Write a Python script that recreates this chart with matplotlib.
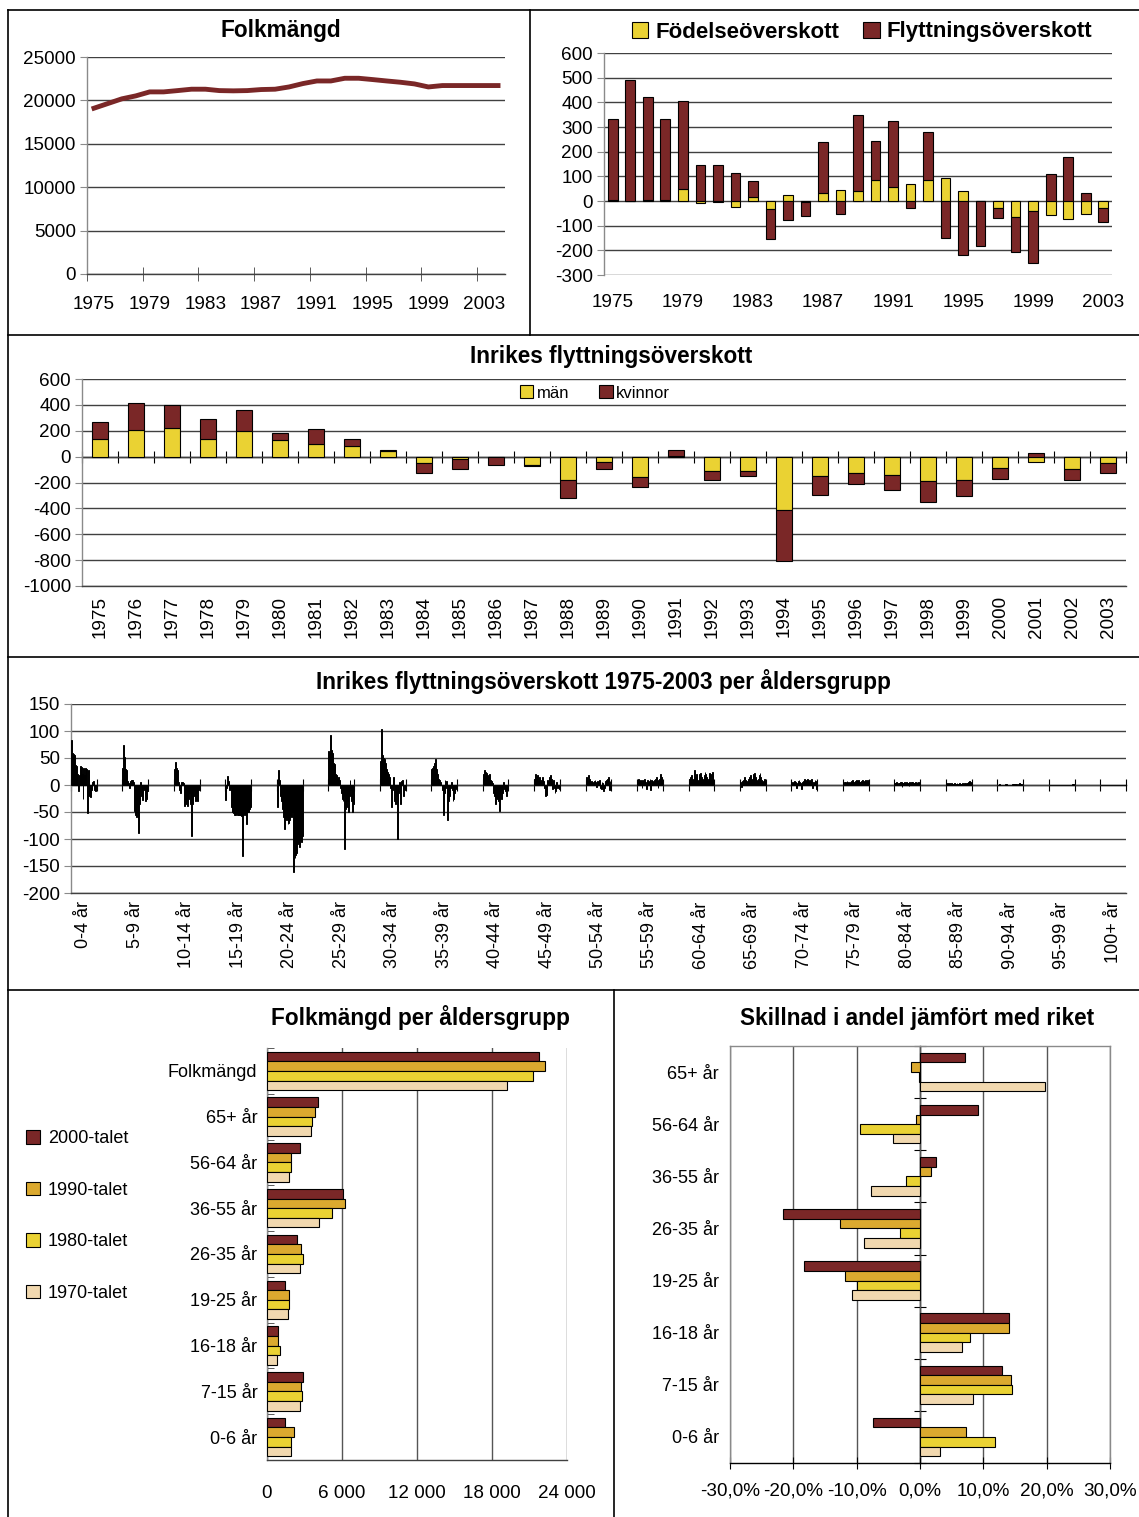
import numpy as np
import matplotlib
matplotlib.use('Agg')
import matplotlib.pyplot as plt
from matplotlib.patches import Patch
from matplotlib.lines import Line2D

plt.rcParams['font.family'] = ['Liberation Sans', 'DejaVu Sans']
plt.rcParams['axes.linewidth'] = 1.0
plt.rcParams['axes.unicode_minus'] = False

# ---------------- data ----------------
pop_years = list(range(1975, 2005))
population = [19100, 19640, 20180, 20520, 20980, 20980, 21130, 21290, 21290, 21130,
              21100, 21130, 21250, 21290, 21550, 21940, 22240, 22240, 22550, 22550,
              22400, 22240, 22090, 21900, 21550, 21710, 21710, 21710, 21710, 21710]

bar_years = list(range(1975, 2004))
birth_surplus = [3, 2, 5, 5, 47, -10, -4, -23, 18, -34, 23, -4, 34, 46, 39,
                 85, 57, 69, 85, 92, 41, 2, -28, -64, -39, -57, -73, -51, -30]
migration_surplus = [330, 490, 416, 327, 357, 144, 144, 115, 62, -119, -79, -58, 206, -51, 309,
                     160, 268, -28, 194, -149, -217, -182, -41, -141, -212, 110, 177, 31, -54]

men = [137, 208, 221, 137, 198, 125, 94, 84, 41, -53, -20, -3, -61, -180, -41,
       -160, 3, -112, -112, -414, -147, -125, -140, -191, -180, -86, -41, -97, -51]
women = [130, 209, 175, 150, 165, 55, 117, 53, 12, -77, -77, -61, -12, -140, -56,
         -76, 50, -71, -38, -389, -153, -88, -117, -162, -127, -84, 25, -86, -76]

age_labels = ['0-4 år', '5-9 år', '10-14 år', '15-19 år', '20-24 år', '25-29 år', '30-34 år',
              '35-39 år', '40-44 år', '45-49 år', '50-54 år', '55-59 år', '60-64 år', '65-69 år',
              '70-74 år', '75-79 år', '80-84 år', '85-89 år', '90-94 år', '95-99 år', '100+ år']
a0_4 = [83, 60, 58, 55, 38, 37, 36, 20, -12, 18, 35, 33, 20, -25, 32, 18, 31, 30, -52, 28, -20, -22, -15, -10, 5, 8, -10, -12, -5]
a5_9 = [32, 74, 52, 30, 28, 8, 3, -5, 5, 8, 10, 10, 5, -48, -55, -60, -40, -62, -88, -35, 5, -20, -28, -5, -10, -30, -15, -25, -12]
a10_14 = [30, 42, 32, 28, 28, 5, -10, -15, 5, 5, 3, -38, -35, -35, -30, -38, -25, -15, -35, -95, -35, -25, -10, -20, -30, -15, -30, -10, -5]
a15_19 = [-28, -5, 17, 8, -10, -5, -40, -42, -50, -52, -55, -55, -52, -55, -56, -55, -50, -55, -58, -132, -55, -52, -55, -72, -50, -48, -50, -45, -40]
a20_24 = [-40, 27, 10, -5, -20, -30, -45, -60, -82, -60, -65, -60, -73, -70, -65, -55, -60, -50, -161, -120, -135, -130, -125, -110, -105, -115, -100, -105, -95]
a25_29 = [63, 60, 93, 65, 60, 40, 38, 35, 20, 18, 12, 15, 10, -5, -15, -25, -30, -20, -118, -45, -40, -30, -50, -20, 10, -10, -30, -50, -35]
a30_34 = [45, 103, 65, 55, 50, 48, 40, 30, 25, 20, 15, 10, -5, -40, -10, 15, -30, -35, -20, -100, -30, -15, 5, -35, 8, 10, -20, -10, -5]
a35_39 = [30, 32, 35, 40, 48, 30, 22, 20, 12, 10, 5, 0, -10, -55, -15, 10, -5, 8, -65, -30, -20, -5, 5, -10, -30, -25, -15, -5, -8]
a40_44 = [20, 22, 27, 25, 23, 18, 15, 20, 10, 8, 5, 3, -15, -20, -35, -22, -25, -30, -48, -18, -10, -25, -15, 5, -8, -12, -20, -10, -8]
a45_49 = [12, 20, 15, 18, 8, 10, 14, 5, 10, 15, 8, -5, -20, -18, -12, 10, 5, 15, 18, 12, -8, 10, -5, -15, -12, 5, -5, -3, -8]
a50_54 = [15, 10, 8, 18, 12, 5, 8, 5, 3, 8, 10, 5, -3, 8, 6, 10, -5, -8, 5, 3, -12, -5, 8, 10, 12, 15, -10, 8, -5]
a55_59 = [10, 12, 10, 8, 10, -5, 8, 10, 12, 5, -8, 10, 6, 8, 12, -10, 10, 8, 5, 10, 12, 15, 8, -5, 10, 12, 20, 15, 8]
a60_64 = [5, 12, 15, 18, 10, 12, 27, 15, 20, 18, 8, 10, 20, 22, 15, 12, 10, 18, 25, 20, 15, 8, 12, 22, 20, 10, 25, 18, 10]
a65_69 = [5, -3, 8, 10, 12, 15, 10, 8, 5, 12, 15, 18, 10, 8, 12, 20, 22, 15, 10, 8, 12, 18, 22, 15, 10, 5, 8, 12, 5]
a70_74 = [2, 5, 3, 8, 5, -5, 3, 8, 10, 6, 4, -8, 5, 8, 12, 10, 5, 8, 12, 5, 10, 8, 12, -5, 6, 4, 10, 8, -8]
a75_79 = [3, 5, 6, 4, 8, 5, 3, 6, 4, 8, 10, 5, 6, 4, 8, 10, 7, 9, 6, 5, 8, 10, 9, 6, 8, 10, 6, 9, 5]
a80_84 = [3, 4, 5, 2, 4, 3, 5, 6, -3, 4, 3, 5, 2, 6, 4, 3, -2, 5, 4, 6, 5, 3, 4, 6, 2, 5, 4, 6, 3]
a85_89 = [2, 3, 2, 1, 3, 2, 3, 2, 2, 3, 1, 2, 3, 2, 2, 3, 2, 1, 3, 2, 3, 4, 2, 3, 4, 5, 8, 6, 3]
a90_94 = [0, 0, 1, 0, 0, 0, 0, 0, 0, 2, 1, 0, 0, 0, 0, 0, 0, 1, 2, 1, 2, 1, 0, 2, 3, 2, 1, 2, 0]
a95_99 = [0, 0, 0, 0, 0, 0, 0, 0, 0, 0, 0, 0, 0, 0, 0, 0, 0, 0, 0, 0, 0, 0, 0, 0, 0, 0, 1, 2, 0]
a100 = [0, 0, 0, 0, 0, 0, 0, 0, 0, 0, 0, 0, 0, 0, 0, 0, 0, 0, 0, 0, 0, 0, 0, 0, 0, 0, 0, 0, 0]
age_series = [a0_4, a5_9, a10_14, a15_19, a20_24, a25_29, a30_34, a35_39, a40_44, a45_49, a50_54,
              a55_59, a60_64, a65_69, a70_74, a75_79, a80_84, a85_89, a90_94, a95_99, a100]

pop_groups = ['Folkmängd', '65+ år', '56-64 år', '36-55 år', '26-35 år', '19-25 år', '16-18 år', '7-15 år', '0-6 år']
pop_2000 = [21770, 4070, 2600, 6080, 2380, 1470, 910, 2910, 1470]
pop_1990 = [22200, 3820, 1910, 6200, 2690, 1790, 880, 2690, 2130]
pop_1980 = [21270, 3600, 1910, 5170, 2910, 1790, 1000, 2820, 1910]
pop_1970 = [19170, 3510, 1790, 4170, 2600, 1660, 780, 2600, 1910]
pop_ticks = [0, 6000, 12000, 18000, 24000]
pop_ticklabels = ['0', '6 000', '12 000', '18 000', '24 000']

diff_groups = ['65+ år', '56-64 år', '36-55 år', '26-35 år', '19-25 år', '16-18 år', '7-15 år', '0-6 år']
diff_2000 = [7.1, 9.1, 2.6, -21.6, -18.3, 14.0, 13.0, -7.5]
diff_1990 = [-1.5, -0.6, 1.7, -12.6, -11.9, 14.0, 14.3, 7.3]
diff_1980 = [-0.2, -9.5, -2.2, -3.2, -9.9, 7.9, 14.6, 11.9]
diff_1970 = [19.8, -4.2, -7.7, -8.8, -10.8, 6.6, 8.4, 3.1]
diff_ticks = [-30, -20, -10, 0, 10, 20, 30]
diff_ticklabels = ['-30,0%', '-20,0%', '-10,0%', '0,0%', '10,0%', '20,0%', '30,0%']

decade_labels = ['2000-talet', '1990-talet', '1980-talet', '1970-talet']

# ---------------- style ----------------
DARKRED = '#7A2727'
YELLOW = '#EAD233'
GOLD = '#DBA92F'
BEIGE = '#F1D8AF'
GRID = '#404040'
AXGRAY = '#8a8a8a'
FS = 13
FSN = 13.6
TFS = 16.3
decade_colors = [DARKRED, GOLD, YELLOW, BEIGE]

W, H = 1139, 1517
fig = plt.figure(figsize=(W / 100, H / 100), dpi=100)
fig.patch.set_facecolor('white')


def add_ax(l, t, r, b):
    return fig.add_axes([l / W, 1 - b / H, (r - l) / W, (b - t) / H])


def ftext(x, y, s, **kw):
    fig.text(x / W, 1 - y / H, s, **kw)


def fline(x0, y0, x1, y1):
    fig.add_artist(Line2D([x0 / W, x1 / W], [1 - y0 / H, 1 - y1 / H],
                          transform=fig.transFigure, color='black', lw=1.2))


fline(8, 10, W, 10)
fline(8, 10, 8, H)
fline(530, 10, 530, 335)
fline(8, 335, W, 335)
fline(8, 657, W, 657)
fline(8, 990, W, 990)
fline(614, 990, 614, H)


def basic(ax):
    for s in ['top', 'right']:
        ax.spines[s].set_visible(False)
    ax.spines['left'].set_color(AXGRAY)
    ax.tick_params(axis='y', length=5, color=AXGRAY, labelsize=FSN, pad=3)
    ax.set_axisbelow(True)


# ---------------- panel 1: Folkmängd ----------------
ax = add_ax(87, 57, 505, 274)
xp = np.arange(len(pop_years))
ax.plot(xp, population, color=DARKRED, lw=3.5, solid_joinstyle='round', zorder=3)
ax.set_xlim(-0.5, len(pop_years) - 0.5)
ax.set_ylim(0, 25000)
ax.set_yticks(np.arange(0, 25001, 5000))
ax.grid(axis='y', color=GRID, lw=1)
basic(ax)
ax.spines['bottom'].set_color(GRID)
ax.set_xticks(xp[::4])
ax.set_xticklabels([str(y) for y in pop_years[::4]])
ax.set_xticks(np.arange(-0.5, len(pop_years) - 1, 4), minor=True)
ax.tick_params(axis='x', which='major', length=0, pad=16, labelsize=FSN)
ax.tick_params(axis='x', which='minor', length=10, direction='inout', color=GRID)
ftext(281, 30, 'Folkmängd', ha='center', va='center', fontsize=TFS, fontweight='bold')

# ---------------- panel 2: Födelse/Flyttning ----------------
ax = add_ax(604, 53, 1112, 275)
xb = np.arange(len(bar_years))
b = np.array(birth_surplus)
m = np.array(migration_surplus)
m_bottom = np.where((m >= 0) == (b >= 0), b, 0)
ax.bar(xb, b, width=0.55, color=YELLOW, edgecolor='black', lw=0.8, zorder=3)
ax.bar(xb, m, bottom=m_bottom, width=0.55, color=DARKRED, edgecolor='black', lw=0.8, zorder=3)
ax.set_xlim(-0.5, len(bar_years) - 0.5)
ax.set_ylim(-300, 600)
ax.set_yticks(np.arange(-300, 601, 100))
ax.grid(axis='y', color=GRID, lw=1)
basic(ax)
ax.spines['bottom'].set_visible(False)
ax.set_xticks(xb[::4])
ax.set_xticklabels([str(y) for y in bar_years[::4]])
ax.tick_params(axis='x', length=0, pad=14, labelsize=FSN)
h2 = [Patch(facecolor=YELLOW, edgecolor='black', lw=0.8), Patch(facecolor=DARKRED, edgecolor='black', lw=0.8)]
fig.legend(h2, ['Födelseöverskott', 'Flyttningsöverskott'], loc='center',
           bbox_to_anchor=(862 / W, 1 - 32 / H), ncol=2, frameon=False,
           prop=dict(weight='bold', size=16), handlelength=0.75, handleheight=0.75,
           handletextpad=0.3, columnspacing=1.1, borderpad=0)

# ---------------- panel 3: Inrikes flyttningsöverskott ----------------
ax = add_ax(82, 379, 1126, 586)
xm = np.arange(len(bar_years))
mn = np.array(men)
wm = np.array(women)
w_bottom = np.where((wm >= 0) == (mn >= 0), mn, 0)
ax.bar(xm, mn, width=0.45, color=YELLOW, edgecolor='black', lw=0.8, zorder=3, label='män')
ax.bar(xm, wm, bottom=w_bottom, width=0.45, color=DARKRED, edgecolor='black', lw=0.8, zorder=3, label='kvinnor')
ax.set_xlim(-0.5, len(bar_years) - 0.5)
ax.set_ylim(-1000, 600)
ax.set_yticks(np.arange(-1000, 601, 200))
ax.grid(axis='y', color=GRID, lw=1)
basic(ax)
ax.spines['bottom'].set_color(GRID)
ax.set_xticks(xm)
ax.set_xticklabels([str(y) for y in bar_years], rotation=90)
ax.tick_params(axis='x', length=0, pad=7, labelsize=FSN)
sec = ax.secondary_xaxis(1000 / 1600)
sec.set_xticks(np.arange(-0.5, len(bar_years), 1))
sec.tick_params(axis='x', which='both', direction='inout', length=8, color='black',
                labeltop=False, labelbottom=False)
for s in sec.spines.values():
    s.set_color('black')
ftext(611, 357, 'Inrikes flyttningsöverskott', ha='center', va='center', fontsize=TFS, fontweight='bold')
h3 = [Patch(facecolor=YELLOW, edgecolor='black', lw=0.8), Patch(facecolor=DARKRED, edgecolor='black', lw=0.8)]
fig.legend(h3, ['män', 'kvinnor'], loc='center', bbox_to_anchor=(595 / W, 1 - 393 / H), ncol=2,
           frameon=False, fontsize=12, handlelength=0.8, handleheight=0.8, handletextpad=0.2,
           columnspacing=1.8, borderpad=0)

# ---------------- panel 4: per åldersgrupp ----------------
ax = add_ax(71, 704, 1126, 893)
n_years = len(age_series[0])
bw = 1.0 / n_years
for g, vals in enumerate(age_series):
    xs = 2 * g - 0.5 + (np.arange(n_years) + 0.5) * bw
    ax.bar(xs, vals, width=bw, color='black', edgecolor='black', lw=0.7, zorder=3)
ncat = 2 * len(age_labels) - 1
ax.set_xlim(-0.5, ncat - 0.5)
ax.set_ylim(-200, 150)
ax.set_yticks(np.arange(-200, 151, 50))
ax.grid(axis='y', color=GRID, lw=1)
basic(ax)
ax.spines['bottom'].set_color(GRID)
ax.set_xticks(np.arange(0, ncat, 2))
ax.set_xticklabels(age_labels, rotation=90)
ax.tick_params(axis='x', length=0, pad=6, labelsize=FS)
sec = ax.secondary_xaxis(200 / 350)
sec.set_xticks(np.arange(-0.5, ncat, 1))
sec.tick_params(axis='x', which='both', direction='inout', length=8, color='black',
                labeltop=False, labelbottom=False)
for s in sec.spines.values():
    s.set_color('black')
ftext(603, 682, 'Inrikes flyttningsöverskott 1975-2003 per åldersgrupp', ha='center', va='center',
      fontsize=TFS, fontweight='bold')

# ---------------- panel 5: Folkmängd per åldersgrupp ----------------
ax = add_ax(267, 1048, 567, 1460)
yc = np.arange(len(pop_groups))
bh = 0.21
for j, (vals, col) in enumerate(zip([pop_2000, pop_1990, pop_1980, pop_1970], decade_colors)):
    ax.barh(yc + (j - 1.5) * bh, vals, height=bh, color=col, edgecolor='black', lw=0.8, zorder=3)
ax.set_ylim(len(pop_groups) - 0.5, -0.5)
ax.set_xlim(0, 24000)
ax.set_xticks(pop_ticks)
ax.set_xticklabels(pop_ticklabels)
ax.grid(axis='x', color='#555555', lw=1)
ax.set_axisbelow(True)
for s in ['top', 'right']:
    ax.spines[s].set_visible(False)
ax.spines['left'].set_color(AXGRAY)
ax.spines['bottom'].set_color(GRID)
ax.set_yticks(yc)
ax.set_yticklabels(pop_groups)
ax.set_yticks(np.arange(-0.5, len(pop_groups), 1), minor=True)
ax.tick_params(axis='y', which='major', length=0, pad=7, labelsize=FS)
ax.tick_params(axis='y', which='minor', length=5, direction='in', color=GRID)
ax.tick_params(axis='x', length=0, pad=18, labelsize=FSN)
ftext(420, 1018, 'Folkmängd per åldersgrupp', ha='center', va='center', fontsize=TFS, fontweight='bold')
h5 = [Patch(facecolor=c, edgecolor='black', lw=0.8) for c in decade_colors]
fig.legend(h5, decade_labels, loc='center left', bbox_to_anchor=(26 / W, 1 - 1216 / H),
           frameon=False, fontsize=FS, labelspacing=1.9, handlelength=0.8, handleheight=0.8,
           handletextpad=0.4, borderpad=0, borderaxespad=0)

# ---------------- panel 6: Skillnad i andel ----------------
ax = add_ax(730, 1046, 1110, 1463)
yd = np.arange(len(diff_groups))
bh = 0.185
for j, (vals, col) in enumerate(zip([diff_2000, diff_1990, diff_1980, diff_1970], decade_colors)):
    ax.barh(yd + (j - 1.5) * bh, vals, height=bh, color=col, edgecolor='black', lw=0.8, zorder=3)
ax.set_ylim(len(diff_groups) - 0.5, -0.5)
ax.set_xlim(-30, 30)
ax.set_xticks(diff_ticks)
ax.set_xticklabels(diff_ticklabels)
ax.grid(axis='x', color='#555555', lw=1)
ax.set_axisbelow(True)
for s in ['top', 'right', 'left']:
    ax.spines[s].set_color(AXGRAY)
ax.spines['bottom'].set_color('black')
ax.set_yticks(yd)
ax.set_yticklabels(diff_groups)
ax.tick_params(axis='y', length=0, pad=8, labelsize=FS)
ax.tick_params(axis='x', length=8, direction='inout', color='black', pad=10, labelsize=FSN)
sec = ax.secondary_yaxis(0.5)
sec.set_yticks(np.arange(-0.5, len(diff_groups), 1))
sec.tick_params(axis='y', which='both', direction='inout', length=8, color='black',
                labelleft=False, labelright=False)
for s in sec.spines.values():
    s.set_color('black')
ftext(917, 1018, 'Skillnad i andel jämfört med riket', ha='center', va='center', fontsize=TFS,
      fontweight='bold')

fig.savefig('out.png', dpi=100, facecolor='white')
